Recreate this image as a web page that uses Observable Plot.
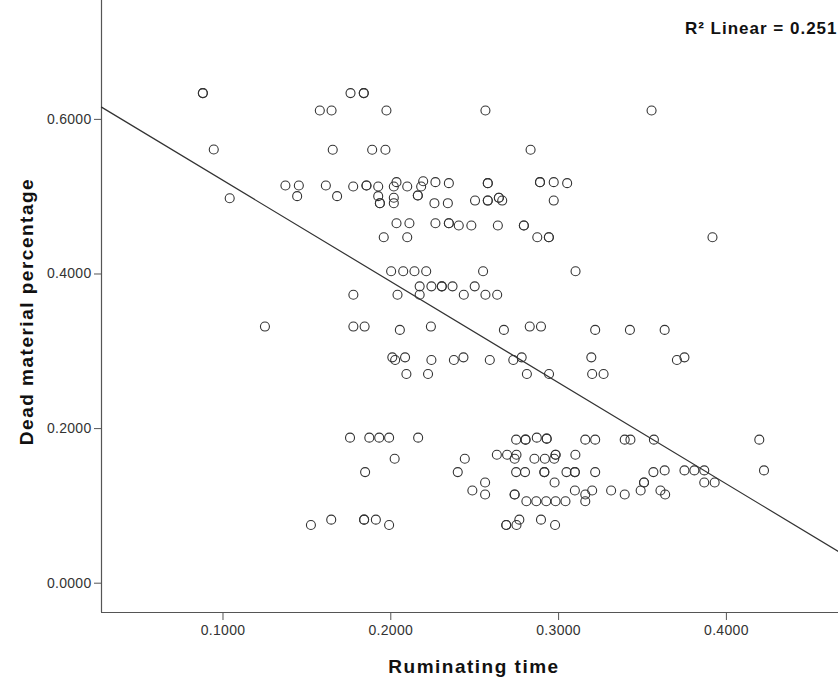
<!DOCTYPE html>
<html>
<head>
<meta charset="utf-8">
<script src="https://cdn.jsdelivr.net/npm/d3@7"></script>
<script src="https://cdn.jsdelivr.net/npm/@observablehq/plot@0.6"></script>
<style>
  html, body { margin: 0; padding: 0; background: #fff; }
  #chart svg { display: block; }
  #chart g[aria-label="y-axis tick label"] text,
  #chart g[aria-label="x-axis tick label"] text { letter-spacing: 0.3px; }
  #chart .title text { letter-spacing: 1.5px; }
  #chart .fitlabel text { letter-spacing: 1px; }
</style>
</head>
<body>
<div id="chart"></div>
<script>
// Ruminating time (x) values
const ruminating = [
  0.088,0.088,0.0945,0.104,0.1372,0.1452,0.1442,0.1577,0.1647,0.1654,0.1613,0.168,0.176,0.1839,0.1839,
  0.1974,0.2564,0.1889,0.1968,0.2833,0.1776,0.1855,0.1855,0.1925,0.1925,0.1935,0.1935,0.2018,0.2034,0.2018,
  0.2018,0.2098,0.2181,0.2193,0.2161,0.2161,0.2266,0.2346,0.226,0.234,0.2578,0.2578,0.2502,0.2578,0.2578,
  0.2644,0.2644,0.2664,0.2889,0.2889,0.2971,0.3051,0.2971,0.2034,0.2111,0.2266,0.2346,0.2346,0.2405,0.248,
  0.2638,0.2793,0.2793,0.1958,0.2098,0.2873,0.2942,0.2942,0.2002,0.2074,0.2141,0.2211,0.255,0.3101,0.3554,
  0.3917,
  0.2172,0.2242,0.2304,0.2304,0.2368,0.25,0.1777,0.204,0.2172,0.2435,0.2564,0.2634,
  0.125,0.1777,0.1844,0.2239,0.2828,0.2895,0.2054,0.2674,0.3218,0.3425,0.3632,
  0.2009,0.2085,0.2433,0.278,0.3195,0.375,0.2026,0.2242,0.2376,0.259,0.273,0.3705,
  0.2093,0.2222,0.2811,0.2943,0.32,0.3268,
  0.1757,0.1872,0.1931,0.199,0.2163,0.2747,0.2803,0.2803,0.287,0.2929,0.2929,0.3159,0.3218,0.3394,0.3428,0.3568,0.4196,
  0.2632,0.2693,0.2749,0.2982,0.2982,0.31,0.2023,0.2441,0.2738,0.2856,0.2918,0.2974,
  0.1847,0.2399,0.2747,0.28,0.2915,0.2915,0.3047,0.3097,0.3097,0.3218,0.3565,0.3632,0.375,0.3809,0.3868,0.4224,
  0.2562,0.2976,0.3509,0.3509,0.3868,0.393,0.2486,0.3097,0.32,0.3313,0.3489,0.3607,
  0.2562,0.2738,0.2738,0.3159,0.3394,0.3635,0.2808,0.2867,0.2926,0.2982,0.3041,0.3159,
  0.1645,0.1841,0.1841,0.1911,0.2766,0.2895,0.1524,0.199,0.2688,0.2688,0.2749,0.2979
];
// Dead material percentage (y) values
const deadMaterial = [
  0.634,0.634,0.561,0.498,0.5145,0.5145,0.5007,0.6115,0.6115,0.5607,0.5145,0.5007,0.634,0.634,0.634,
  0.6115,0.6115,0.5607,0.5607,0.5607,0.5132,0.5145,0.5145,0.5132,0.5007,0.4916,0.4916,0.5132,0.5188,0.4986,
  0.4916,0.5132,0.5132,0.520,0.5016,0.5016,0.5188,0.5175,0.4916,0.4916,0.5175,0.5175,0.495,0.495,0.495,
  0.4986,0.4986,0.495,0.5188,0.5188,0.5188,0.5175,0.495,0.4657,0.4657,0.4657,0.4657,0.4657,0.4627,0.4627,
  0.4627,0.4627,0.4627,0.4476,0.4476,0.4476,0.4476,0.4476,0.4036,0.4036,0.4036,0.4036,0.4036,0.4036,0.6115,
  0.4476,
  0.384,0.384,0.384,0.384,0.384,0.384,0.3732,0.3732,0.3732,0.3732,0.3732,0.3732,
  0.332,0.332,0.332,0.332,0.332,0.332,0.3277,0.3277,0.3277,0.3277,0.3277,
  0.2922,0.2922,0.2922,0.2922,0.2922,0.2922,0.2887,0.2887,0.2887,0.2887,0.2887,0.2887,
  0.2706,0.2706,0.2706,0.2706,0.2706,0.2706,
  0.1883,0.1883,0.1883,0.1883,0.1883,0.1857,0.1857,0.1857,0.1883,0.187,0.187,0.1857,0.1857,0.1857,0.1857,0.1857,0.1857,
  0.1662,0.1662,0.1662,0.1662,0.1662,0.1662,0.161,0.161,0.161,0.161,0.161,0.161,
  0.1437,0.1437,0.1437,0.1437,0.1437,0.1437,0.1437,0.1437,0.1437,0.1437,0.1437,0.1459,0.1459,0.1459,0.1459,0.1459,
  0.1303,0.1303,0.1303,0.1303,0.1303,0.1303,0.1199,0.1199,0.1199,0.1199,0.1199,0.1199,
  0.1147,0.1147,0.1147,0.1147,0.1147,0.1147,0.106,0.106,0.106,0.106,0.106,0.106,
  0.0822,0.0822,0.0822,0.0822,0.0822,0.0822,0.0753,0.0753,0.0753,0.0753,0.0753,0.0753
];
// Axis ticks and ranges
const xTicks = [0.1, 0.2, 0.3, 0.4];
const yTicks = [0.0, 0.2, 0.4, 0.6];
const xDomain = [0.0276, 0.4668];
const yDomain = [-0.0379, 0.7538];
// Linear fit shown in the picture
const fitIntercept = 0.652;
const fitSlope = -1.309;
const fitLabel = "R² Linear = 0.251";
const xTitle = "Ruminating time";
const yTitle = "Dead material percentage";

const points = ruminating.map((x, i) => ({x, y: deadMaterial[i]}));
const fitLine = xDomain.map(x => ({x, y: fitIntercept + fitSlope * x}));
const fmt = d3.format(".4f");
const FONT = "'Liberation Sans', Arial, sans-serif";

const chart = Plot.plot({
  width: 838,
  height: 681,
  marginLeft: 101,
  marginRight: 0,
  marginTop: 0,
  marginBottom: 69,
  style: {fontFamily: FONT, background: "#fff", color: "#333"},
  x: {domain: xDomain},
  y: {domain: yDomain},
  marks: [
    Plot.axisY({ticks: yTicks, tickFormat: fmt, tickSize: 7, tickPadding: 3, fontSize: 14, label: null, stroke: "#555", color: "#333"}),
    Plot.axisX({ticks: xTicks, tickFormat: fmt, tickSize: 8, tickPadding: 5, fontSize: 14, label: null, stroke: "#555", color: "#333"}),
    Plot.ruleX([xDomain[0]], {stroke: "#555", strokeWidth: 1.2}),
    Plot.ruleY([yDomain[0]], {stroke: "#555", strokeWidth: 1.2}),
    Plot.line(fitLine, {x: "x", y: "y", stroke: "#333", strokeWidth: 1.2}),
    Plot.dot(points, {x: "x", y: "y", r: 4.5, stroke: "#333", strokeWidth: 1.1, fill: "none"}),
    Plot.text([fitLabel], {className: "fitlabel", frameAnchor: "top-right", dx: -1, dy: 28, textAnchor: "end", lineAnchor: "middle", fontSize: 17, fontWeight: "bold", fill: "#111"}),
    Plot.text([xTitle], {className: "title", frameAnchor: "bottom", dx: 4, dy: 54, textAnchor: "middle", lineAnchor: "middle", fontSize: 19, fontWeight: "bold", fill: "#111"}),
    Plot.text([yTitle], {className: "title", frameAnchor: "left", dx: -75, dy: 5, rotate: -90, textAnchor: "middle", lineAnchor: "middle", fontSize: 19, fontWeight: "bold", fill: "#111"})
  ]
});
document.getElementById("chart").appendChild(chart);
</script>
</body>
</html>
